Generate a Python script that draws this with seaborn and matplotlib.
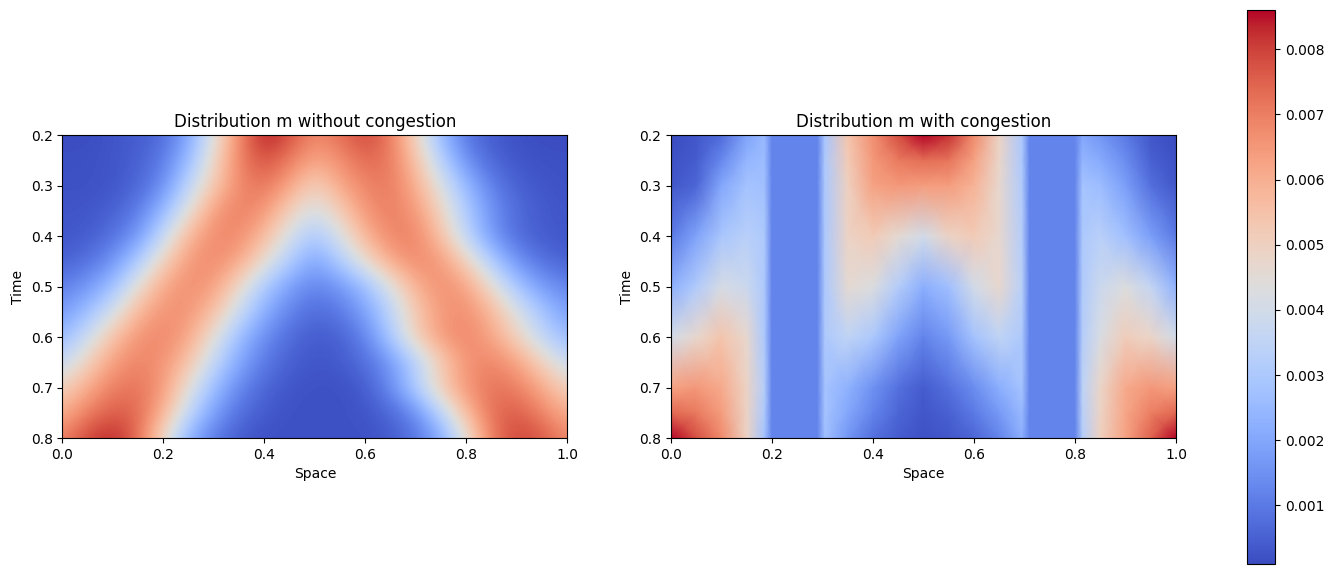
import numpy as np
import matplotlib
matplotlib.use("Agg")
import matplotlib.pyplot as plt
import seaborn as sns

# --- distribution m(t, x) ---

# without congestion: regular grid
space_free = [0.0, 0.05, 0.1, 0.15, 0.2, 0.25, 0.3, 0.35, 0.4, 0.45, 0.5,
              0.55, 0.6, 0.65, 0.7, 0.75, 0.8, 0.85, 0.9, 0.95, 1.0]
time_free = [0.2, 0.25, 0.3, 0.35, 0.4, 0.45, 0.5, 0.55, 0.6, 0.65, 0.7, 0.75, 0.8]
m_free = [
    [0.0001, 0.0001, 0.0003, 0.0004, 0.0007, 0.0019, 0.0043, 0.0068, 0.0086, 0.0078, 0.0068, 0.0073, 0.0080, 0.0071, 0.0049, 0.0024, 0.0009, 0.0004, 0.0002, 0.0001, 0.0001],
    [0.0002, 0.0002, 0.0003, 0.0005, 0.0010, 0.0025, 0.0048, 0.0070, 0.0078, 0.0071, 0.0062, 0.0067, 0.0074, 0.0071, 0.0055, 0.0032, 0.0014, 0.0006, 0.0003, 0.0002, 0.0002],
    [0.0002, 0.0002, 0.0003, 0.0006, 0.0014, 0.0034, 0.0053, 0.0068, 0.0072, 0.0063, 0.0050, 0.0062, 0.0069, 0.0071, 0.0060, 0.0042, 0.0024, 0.0011, 0.0005, 0.0003, 0.0002],
    [0.0003, 0.0003, 0.0005, 0.0010, 0.0024, 0.0044, 0.0064, 0.0070, 0.0066, 0.0051, 0.0041, 0.0052, 0.0066, 0.0070, 0.0065, 0.0049, 0.0030, 0.0015, 0.0007, 0.0004, 0.0003],
    [0.0003, 0.0004, 0.0008, 0.0016, 0.0036, 0.0058, 0.0068, 0.0068, 0.0057, 0.0041, 0.0029, 0.0042, 0.0059, 0.0069, 0.0069, 0.0055, 0.0034, 0.0016, 0.0007, 0.0004, 0.0003],
    [0.0005, 0.0008, 0.0015, 0.0030, 0.0050, 0.0065, 0.0068, 0.0062, 0.0047, 0.0031, 0.0019, 0.0031, 0.0047, 0.0062, 0.0068, 0.0065, 0.0050, 0.0030, 0.0015, 0.0008, 0.0005],
    [0.0011, 0.0016, 0.0026, 0.0045, 0.0062, 0.0067, 0.0064, 0.0048, 0.0030, 0.0018, 0.0012, 0.0016, 0.0026, 0.0043, 0.0060, 0.0067, 0.0063, 0.0046, 0.0028, 0.0017, 0.0012],
    [0.0017, 0.0026, 0.0040, 0.0058, 0.0066, 0.0066, 0.0056, 0.0038, 0.0022, 0.0012, 0.0007, 0.0010, 0.0019, 0.0034, 0.0053, 0.0065, 0.0067, 0.0058, 0.0042, 0.0028, 0.0018],
    [0.0025, 0.0038, 0.0055, 0.0066, 0.0069, 0.0062, 0.0045, 0.0026, 0.0014, 0.0007, 0.0004, 0.0005, 0.0012, 0.0030, 0.0052, 0.0065, 0.0069, 0.0062, 0.0050, 0.0035, 0.0025],
    [0.0036, 0.0050, 0.0064, 0.0069, 0.0066, 0.0055, 0.0036, 0.0020, 0.0010, 0.0005, 0.0003, 0.0004, 0.0008, 0.0016, 0.0032, 0.0052, 0.0066, 0.0069, 0.0063, 0.0050, 0.0037],
    [0.0050, 0.0061, 0.0070, 0.0072, 0.0065, 0.0045, 0.0026, 0.0013, 0.0006, 0.0003, 0.0002, 0.0002, 0.0004, 0.0014, 0.0032, 0.0053, 0.0066, 0.0072, 0.0070, 0.0061, 0.0050],
    [0.0060, 0.0070, 0.0076, 0.0074, 0.0060, 0.0036, 0.0018, 0.0008, 0.0004, 0.0002, 0.0002, 0.0002, 0.0003, 0.0006, 0.0014, 0.0034, 0.0058, 0.0073, 0.0076, 0.0069, 0.0060],
    [0.0070, 0.0080, 0.0084, 0.0074, 0.0048, 0.0022, 0.0010, 0.0004, 0.0002, 0.0002, 0.0002, 0.0002, 0.0002, 0.0004, 0.0009, 0.0020, 0.0045, 0.0071, 0.0080, 0.0077, 0.0068],
]

# with congestion: extra columns at the edges of the two low-density strips
space_cong = [0.0, 0.05, 0.1, 0.15, 0.185, 0.2, 0.29, 0.305, 0.35, 0.4, 0.45, 0.5,
              0.55, 0.6, 0.65, 0.695, 0.71, 0.8, 0.815, 0.85, 0.9, 0.95, 1.0]
time_cong = [0.2, 0.25, 0.3, 0.4, 0.5, 0.6, 0.7, 0.75, 0.8]
m_cong = [
    [0.0001, 0.0003, 0.0007, 0.0019, 0.0025, 0.0012, 0.0012, 0.0029, 0.0054, 0.0067, 0.0078, 0.0086, 0.0082, 0.0068, 0.0049, 0.0030, 0.0012, 0.0012, 0.0020, 0.0016, 0.0010, 0.0003, 0.0001],
    [0.0002, 0.0004, 0.0013, 0.0024, 0.0026, 0.0012, 0.0012, 0.0030, 0.0052, 0.0065, 0.0071, 0.0073, 0.0072, 0.0063, 0.0048, 0.0030, 0.0012, 0.0012, 0.0024, 0.0021, 0.0014, 0.0005, 0.0002],
    [0.0003, 0.0006, 0.0020, 0.0028, 0.0027, 0.0012, 0.0012, 0.0030, 0.0050, 0.0063, 0.0065, 0.0064, 0.0064, 0.0059, 0.0047, 0.0031, 0.0012, 0.0012, 0.0028, 0.0026, 0.0018, 0.0008, 0.0003],
    [0.0010, 0.0019, 0.0029, 0.0033, 0.0030, 0.0012, 0.0012, 0.0030, 0.0049, 0.0052, 0.0046, 0.0040, 0.0049, 0.0052, 0.0047, 0.0032, 0.0012, 0.0012, 0.0030, 0.0033, 0.0027, 0.0018, 0.0010],
    [0.0022, 0.0031, 0.0041, 0.0038, 0.0030, 0.0012, 0.0012, 0.0030, 0.0046, 0.0043, 0.0032, 0.0022, 0.0027, 0.0040, 0.0047, 0.0033, 0.0012, 0.0012, 0.0031, 0.0038, 0.0043, 0.0036, 0.0023],
    [0.0040, 0.0047, 0.0054, 0.0047, 0.0030, 0.0012, 0.0012, 0.0030, 0.0035, 0.0030, 0.0019, 0.0012, 0.0017, 0.0028, 0.0035, 0.0030, 0.0012, 0.0012, 0.0032, 0.0042, 0.0051, 0.0048, 0.0040],
    [0.0063, 0.0065, 0.0061, 0.0049, 0.0032, 0.0012, 0.0012, 0.0028, 0.0023, 0.0015, 0.0008, 0.0004, 0.0008, 0.0014, 0.0022, 0.0028, 0.0012, 0.0012, 0.0034, 0.0048, 0.0061, 0.0065, 0.0063],
    [0.0074, 0.0071, 0.0064, 0.0049, 0.0030, 0.0012, 0.0012, 0.0028, 0.0020, 0.0012, 0.0006, 0.0003, 0.0005, 0.0010, 0.0017, 0.0025, 0.0012, 0.0012, 0.0033, 0.0049, 0.0062, 0.0070, 0.0074],
    [0.0086, 0.0078, 0.0068, 0.0049, 0.0028, 0.0012, 0.0012, 0.0027, 0.0016, 0.0008, 0.0004, 0.0002, 0.0003, 0.0006, 0.0012, 0.0022, 0.0012, 0.0012, 0.0032, 0.0050, 0.0063, 0.0075, 0.0086],
]

cmap = sns.color_palette("coolwarm", as_cmap=True)
vmin = min(np.min(m_free), np.min(m_cong))
vmax = max(np.max(m_free), np.max(m_cong))

fig = plt.figure(figsize=(13.34, 5.74), dpi=100)
ax1 = fig.add_axes([0.0457, 0.2369, 0.3808, 0.5279])
ax2 = fig.add_axes([0.5022, 0.2369, 0.3801, 0.5279])
cax = fig.add_axes([0.9348, 0.0174, 0.021, 0.965])

# regular grid -> smooth image, sample points at pixel centres
dx = space_free[1] - space_free[0]
dt = time_free[1] - time_free[0]
ax1.imshow(np.array(m_free), cmap=cmap, vmin=vmin, vmax=vmax,
           interpolation='bicubic', interpolation_stage='data',
           origin='upper', aspect='equal',
           extent=[space_free[0] - dx / 2, space_free[-1] + dx / 2,
                   time_free[-1] + dt / 2, time_free[0] - dt / 2])
ax1.set_title('Distribution m without congestion')

# uneven grid -> gouraud shaded mesh
mesh = ax2.pcolormesh(space_cong, time_cong, np.array(m_cong), shading='gouraud',
                      cmap=cmap, vmin=vmin, vmax=vmax)
ax2.set_title('Distribution m with congestion')

for ax in (ax1, ax2):
    ax.set_xlim(0, 1)
    ax.set_ylim(0.8, 0.2)
    ax.set_aspect('equal')
    ax.set_xlabel('Space')
    ax.set_ylabel('Time')

fig.colorbar(mesh, cax=cax)

fig.savefig('out.png', dpi=100)
